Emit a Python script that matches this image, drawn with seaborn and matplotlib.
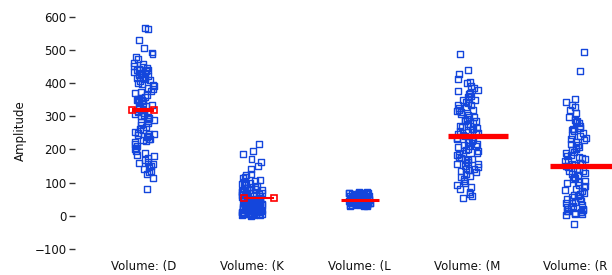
import numpy as np
import pandas as pd
import matplotlib
matplotlib.use("Agg")
import matplotlib.pyplot as plt
import seaborn as sns

sns.set_theme(style="white")
plt.rcParams['font.family'] = ['DejaVu Sans']

# categories (labels are truncated in the original chart)
categories = ["Volume: (D", "Volume: (K", "Volume: (L", "Volume: (M", "Volume: (R"]

# amplitude readings per category
vol_d = [565, 563, 530, 506, 492, 488, 479, 471, 461, 457, 452, 449, 446, 441, 438, 436,
         433, 431, 428, 426, 423, 420, 418, 414, 411, 409, 405, 401, 398, 394, 391, 386,
         381, 377, 372, 369, 363, 359, 355, 352, 350, 347, 345, 342, 339, 334, 331, 326,
         321, 318, 315, 313, 309, 307, 305, 302, 299, 296, 291, 287, 283, 279, 273, 269,
         262, 259, 253, 249, 246, 243, 239, 236, 232, 229, 226, 221, 216, 211, 205, 201,
         196, 189, 183, 179, 173, 168, 163, 159, 156, 151, 146, 141, 136, 131, 127, 113, 80,
         430, 415, 440, 350, 245, 232, 290]
vol_k = [215, 196, 186, 172, 163, 150, 140, 127, 122, 117, 113, 108, 104, 101, 99, 96,
         93, 90, 88, 86, 84, 81, 79, 77, 75, 73, 71, 70, 68, 66, 64, 62, 61, 59, 58, 56,
         55, 53, 52, 51, 49, 48, 47, 46, 45, 44, 43, 42, 41, 40, 39, 38, 37, 36, 35, 34,
         33, 32, 31, 30, 30, 29, 28, 27, 26, 25, 25, 24, 23, 22, 21, 20, 20, 19, 18, 17,
         16, 15, 15, 14, 13, 12, 11, 10, 10, 9, 8, 7, 6, 5, 5, 4, 3, 2, 1, 0,
         62, 48, 35, 27, 18, 9, 42, 22, 14, 6, 2, 38, 56, 31, 85, 95, 70]
vol_l = [72, 70, 69, 68, 67, 66, 65, 64, 63, 62, 61, 60, 59, 58, 57, 56, 55, 54, 53, 52,
         51, 50, 49, 48, 47, 46, 45, 44, 43, 42, 41, 40, 39, 38, 37, 36, 35, 34, 33, 32,
         31, 30, 71, 68, 65, 63, 60, 58, 55, 52, 50, 47, 44, 41, 38, 35, 33, 31, 66, 61,
         57, 53, 49, 45, 40, 36, 32, 70, 64, 59, 54, 48, 43, 39, 34]
vol_m = [486, 438, 427, 411, 404, 399, 391, 386, 379, 377, 370, 367, 361, 358, 351, 349,
         343, 341, 335, 333, 327, 325, 319, 317, 312, 308, 305, 299, 297, 292, 287, 285,
         279, 277, 271, 269, 264, 261, 256, 253, 249, 246, 242, 238, 235, 231, 228, 224,
         221, 217, 213, 209, 206, 201, 198, 194, 190, 186, 182, 178, 175, 170, 167, 163,
         158, 155, 150, 147, 142, 139, 134, 131, 126, 121, 117, 111, 104, 99, 92, 87, 80,
         73, 66, 60, 54, 350, 320, 290, 270, 250, 230, 210, 190, 170, 155, 140, 260, 240]
vol_r = [493, 435, 351, 343, 335, 327, 318, 310, 297, 290, 284, 280, 272, 266, 261, 255,
         250, 244, 240, 233, 228, 222, 217, 212, 208, 203, 198, 193, 188, 184, 180, 176,
         172, 168, 164, 160, 157, 153, 150, 146, 142, 138, 134, 130, 126, 122, 118, 114,
         110, 106, 102, 98, 94, 90, 86, 82, 78, 74, 70, 66, 62, 58, 54, 50, 46, 42, 38,
         34, 30, 26, 22, 18, 14, 10, 6, 2, -24, 12, 8, 20, 40, 60, 135, 155, 175, 200,
         230, 260, 285, 15, 5, 28]

# mean amplitude per category (red bars)
means = [318, 54, 47, 241, 150]

# style of the red mean markers: extent left/right of category centre, line width, end markers
mean_lo = [-0.11, -0.07, -0.17, -0.18, -0.23]
mean_hi = [0.09, 0.21, 0.18, 0.38, 0.45]
mean_lw = [3.0, 1.5, 2.2, 3.8, 3.8]
mean_mk = ["s", "s", None, None, None]

BLUE = "#1446dc"
RED = "#ff0000"

series = [vol_d, vol_k, vol_l, vol_m, vol_r]
df = pd.DataFrame({
    "Volume": np.repeat(categories, [len(s) for s in series]),
    "Amplitude": np.concatenate(series),
})

fig = plt.figure(figsize=(6.12, 2.75), dpi=100)
ax = fig.add_axes([75 / 612, 1 - 252 / 275, 1 - 75 / 612, 242 / 275])

np.random.seed(3)
sns.stripplot(data=df, x="Volume", y="Amplitude", order=categories, ax=ax,
              marker="s", size=4.3, jitter=0.1, color=BLUE, linewidth=1.0,
              edgecolor=BLUE)
for coll in ax.collections:
    coll.set_facecolor("none")
    coll.set_edgecolor(BLUE)

for i, m in enumerate(means):
    ax.plot([i + mean_lo[i], i + mean_hi[i]], [m, m], color=RED, lw=mean_lw[i],
            marker=mean_mk[i], markersize=5, markerfacecolor="none",
            markeredgecolor=RED, markeredgewidth=1.2, solid_capstyle="butt",
            zorder=5, clip_on=True)

ax.set_xlim(-0.64, 4.343)
ax.set_ylim(-109, 620)
ax.set_yticks(np.arange(-100, 601, 100))
for side in ["top", "right", "left", "bottom"]:
    ax.spines[side].set_visible(False)
ax.tick_params(axis="y", left=True, length=4, width=1, color="#333333",
               labelsize=8.5, labelcolor="#111111", pad=2)
ax.tick_params(axis="x", bottom=False, labelsize=8.5, labelcolor="#111111", pad=0)
ax.set_xlabel("")
ax.set_ylabel("Amplitude", fontsize=8.5, color="#111111")
ax.yaxis.set_label_coords(-0.09, 0.5)

fig.savefig("out.png", dpi=100)
